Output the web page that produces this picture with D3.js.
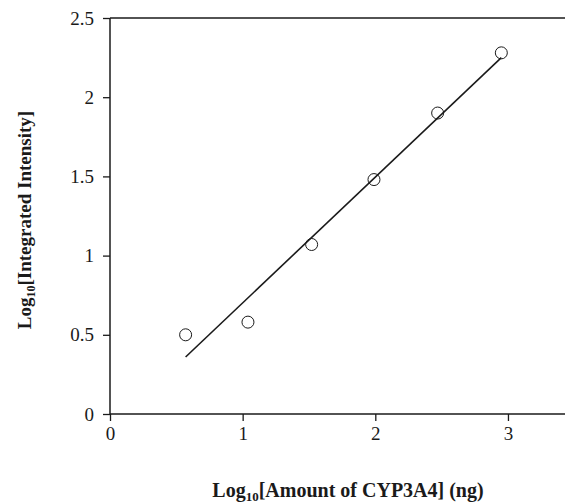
<!DOCTYPE html>
<html><head><meta charset="utf-8">
<script src="https://cdn.jsdelivr.net/npm/d3@7"></script>
<style>body{margin:0;background:#fff}svg{display:block}</style>
</head><body>
<script>
const xVals = [0.57, 1.04, 1.52, 1.99, 2.47, 2.95];
const yVals = [0.50, 0.58, 1.07, 1.48, 1.90, 2.28];
const fitX = [0.57, 2.95];
const fitY = [0.36, 2.25];
const xTicks = [0, 1, 2, 3];
const yTicks = [0, 0.5, 1, 1.5, 2, 2.5];
const xTitle = "Amount of CYP3A4] (ng)";
const yTitle = "Integrated Intensity]";

const W = 565, H = 504;
const svg = d3.select("body").append("svg").attr("width", W).attr("height", H);
const x = d3.scaleLinear().domain([0, 3.43]).range([110, 565]);
const y = d3.scaleLinear().domain([0, 2.5]).range([414, 18]);
const ink = "#1a1a1a";
const font = "Liberation Serif, Times New Roman, serif";

const xa = svg.append("g").attr("transform", "translate(0,414)")
  .call(d3.axisBottom(x).tickValues(xTicks).tickFormat(d3.format("d")).tickSize(7).tickPadding(6));
const ya = svg.append("g").attr("transform", "translate(110,0)")
  .call(d3.axisLeft(y).tickValues(yTicks).tickFormat(d => String(d)).tickSize(7).tickPadding(9));
[xa, ya].forEach(a => {
  a.select(".domain").attr("stroke", ink).attr("stroke-width", 1.5);
  a.selectAll(".tick line").attr("stroke", ink).attr("stroke-width", 1.3);
  a.selectAll("text").attr("font-family", font).attr("font-size", 19).attr("fill", ink);
});
xa.select(".domain").attr("d", `M${x(0)},0H${x(3.43)}`);
ya.select(".domain").attr("d", `M0,${y(0)}V${y(2.5)}`);
// top border
svg.append("line").attr("x1", x(0)).attr("x2", x(3.43)).attr("y1", y(2.5)).attr("y2", y(2.5))
  .attr("stroke", ink).attr("stroke-width", 1.5);

// fit line
svg.append("path")
  .datum(fitX.map((d, i) => [d, fitY[i]]))
  .attr("d", d3.line().x(d => x(d[0])).y(d => y(d[1])))
  .attr("stroke", ink).attr("stroke-width", 1.6).attr("fill", "none");

// points
svg.selectAll("circle.pt").data(xVals.map((d, i) => [d, yVals[i]])).enter()
  .append("circle").attr("class", "pt")
  .attr("cx", d => x(d[0])).attr("cy", d => y(d[1])).attr("r", 6)
  .attr("fill", "none").attr("stroke", ink).attr("stroke-width", 1);

// x title
const xt = svg.append("text").attr("x", 348).attr("y", 497).attr("text-anchor", "middle")
  .attr("font-family", font).attr("font-size", 20).attr("font-weight", "bold").attr("fill", ink);
xt.append("tspan").text("Log");
xt.append("tspan").attr("font-size", 13).attr("dy", 4).text("10");
xt.append("tspan").attr("dy", -4).text("[" + xTitle);

// y title
const yt = svg.append("text").attr("transform", "translate(31,220) rotate(-90)").attr("text-anchor", "middle")
  .attr("font-family", font).attr("font-size", 19).attr("font-weight", "bold").attr("fill", ink);
yt.append("tspan").text("Log");
yt.append("tspan").attr("font-size", 12).attr("dy", 4).text("10");
yt.append("tspan").attr("dy", -4).text("[" + yTitle);
</script>
</body></html>
